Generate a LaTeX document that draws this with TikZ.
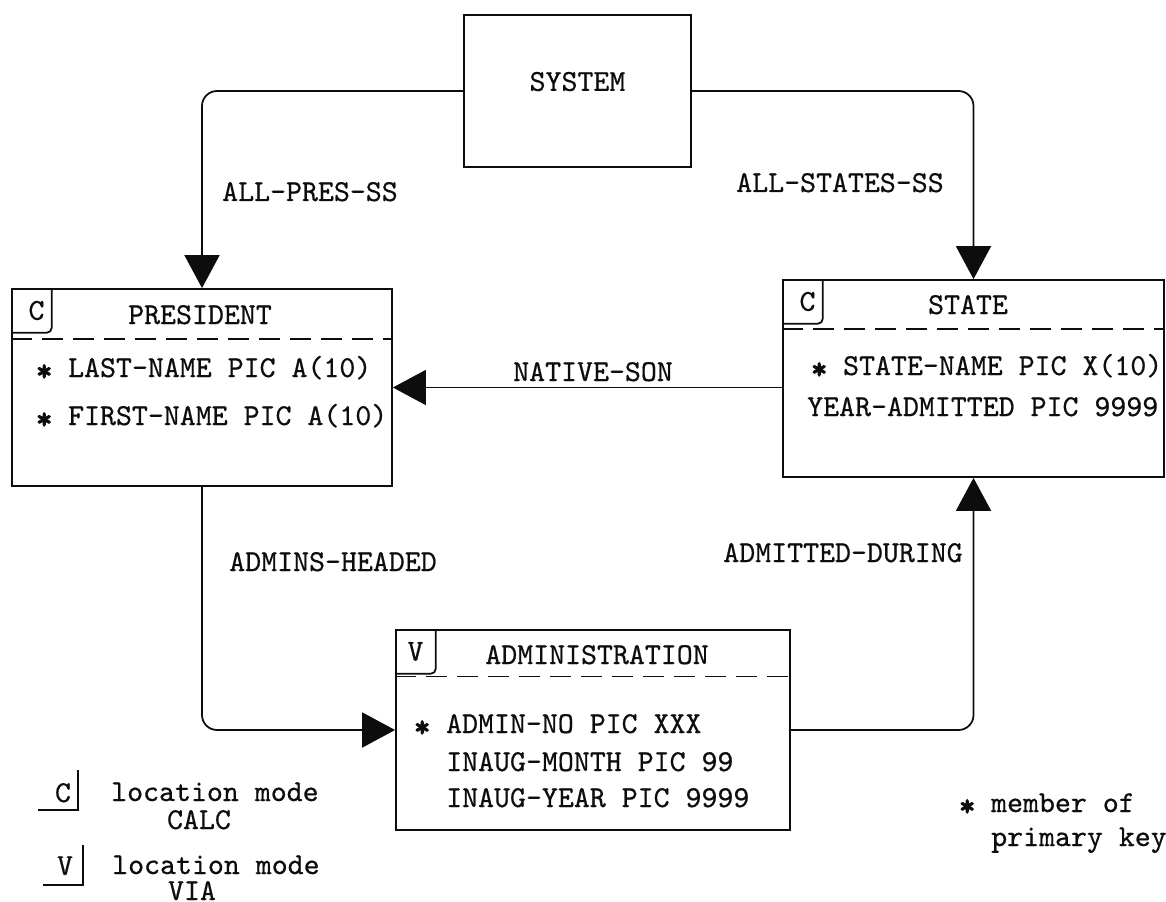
\documentclass[tikz,border=0pt]{standalone}
\usepackage{fontspec}
\setmonofont{lmmono10-regular}[Extension=.otf, FakeBold=0.6]
\newfontfamily\starfont{lmmono10-regular}[Extension=.otf, FakeBold=4]
\usepackage{tikz}
\usetikzlibrary{arrows.meta,positioning,fit}
\definecolor{ink}{gray}{0.05}
\newcommand{\ky}{\raisebox{-0.12em}{\starfont *}}

\begin{document}
\begin{tikzpicture}[x=0.02cm, y=-0.02cm,
    every node/.style={font=\fontsize{17.3}{20}\selectfont\ttfamily, text=ink},
    box/.style={draw=ink, line width=1pt, inner sep=0pt},
    tag/.style={anchor=north west, minimum width=0.8cm, minimum height=0.88cm, inner sep=0pt},
    sep/.style={draw=ink, line width=0.9pt, dash pattern=on 0.42cm off 0.2cm},
    conn/.style={draw=ink, line width=1pt, rounded corners=0.3cm,
        -{Triangle[length=0.66cm, width=0.7cm]}},
    field/.style={anchor=base west},
    lbl/.style={anchor=base}]
    \useasboundingbox (0,0) rectangle (1166,902);
    % --- Records ---
    \node[box, fit={(464,15) (691,167)}] (system) {SYSTEM};
    \node[box, fit={(12,289) (392,486)}] (pres) {};
    \node[box, fit={(783,280) (1164,477)}] (state) {};
    \node[box, fit={(396,630) (790,830)}] (admin) {};
    % Location mode tags
    \node[tag] (presTag) at (pres.north west) {\hspace{0.2cm}C};
    \node[tag] (stateTag) at (state.north west) {\hspace{0.2cm}C};
    \node[tag] (adminTag) at (admin.north west) {V};
    \foreach \t in {presTag,stateTag,adminTag} {
        \draw[ink, line width=1pt, rounded corners=3pt] (\t.north east) |- (\t.south west);
    }
    % Dashed separators
    \draw[sep] ([yshift=-0.12cm]presTag.south west) -- ([yshift=-0.12cm]presTag.south west -| pres.east);
    \draw[sep] ([yshift=-0.1cm]stateTag.south west) -- ([yshift=-0.1cm]stateTag.south west -| state.east);
    \draw[sep] ([yshift=-0.05cm]adminTag.south west) -- ([yshift=-0.05cm]adminTag.south west -| admin.east);
    % Titles and fields
    \node[lbl] (presTitle) at (200,324) {PRESIDENT};
    \node[field] (presF1) at (30,377) {\ky{} LAST-NAME PIC A(10)};
    \node[field] (presF2) at (30,425) {\ky{} FIRST-NAME PIC A(10)};
    \node[lbl] (stateTitle) at (968,314) {STATE};
    \node[field] (stateF1) at (805,375) {\ky{} STATE-NAME PIC X(10)};
    \node[field] (stateF2) at (801,416) {YEAR-ADMITTED PIC 9999};
    \node[lbl] (adminTitle) at (597,664) {ADMINISTRATION};
    \node[field] (adminF1) at (408,733) {\ky{} ADMIN-NO PIC XXX};
    \node[field] (adminF2) at (440,771) {INAUG-MONTH PIC 99};
    \node[field] (adminF3) at (440,807) {INAUG-YEAR PIC 9999};
    % --- Sets ---
    \draw[conn] (system.west) -| (pres.north);
    \draw[conn] (system.east) -| (state.north);
    \draw[conn] (state.west |- pres.east) -- (pres.east);
    \draw[conn] (pres.south) |- (admin.west);
    \draw[conn] (admin.east) -| (state.south);
    \node[lbl] (allPres) at (310,201) {ALL-PRES-SS};
    \node[lbl] (allStates) at (840,192) {ALL-STATES-SS};
    \node[lbl] (nativeSon) at (593,381) {NATIVE-SON};
    \node[lbl] (adminsHeaded) at (333,571) {ADMINS-HEADED};
    \node[lbl] (admittedDuring) at (843,562) {ADMITTED-DURING};
    % --- Legend ---
    \node[lbl] (legC) at (63,802) {C};
    \draw[ink, line width=1pt] (78,770) |- (38,810);
    \node[field] (legCText) at (105,801) {location mode};
    \node[lbl] (legCalc) at (199,829) {CALC};
    \node[lbl] (legV) at (65,875) {V};
    \draw[ink, line width=1pt] (83,845) |- (43,885);
    \node[field] (legVText) at (106,874) {location mode};
    \node[lbl] (legVia) at (192,900) {VIA};
    \node[field] (keyNote) at (953,812) {\ky{} member of};
    \node[field] (keyNote2) at (985,846) {primary key};
\end{tikzpicture}
\end{document}
